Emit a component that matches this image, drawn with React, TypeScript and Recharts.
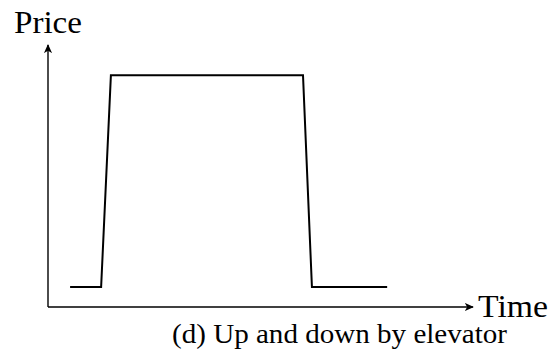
import React from "react";
import { LineChart, Line, XAxis, YAxis } from "recharts";

const times = [0.52, 1.25, 1.48, 6.0, 6.21, 7.98];
const prices = [0.76, 0.76, 8.85, 8.85, 0.76, 0.76];
const xLabel = "Time";
const yLabel = "Price";
const caption = "(d) Up and down by elevator";

const data = times.map((t, i) => ({ t, p: prices[i] }));

const W = 559;
const H = 357;
const FONT = "'Liberation Serif', 'Times New Roman', serif";

export default function App() {
  return (
    <div style={{ position: "absolute", left: 0, top: 0, width: W, height: H, background: "#fff", fontFamily: FONT }}>
      <LineChart width={W} height={H} data={data} margin={{ top: 45, right: 86, bottom: 49, left: 47 }} style={{ fontFamily: FONT }}>
        <defs>
          <marker id="arr" viewBox="0 0 10 10" refX="9" refY="5" markerWidth="9" markerHeight="9" markerUnits="userSpaceOnUse" orient="auto-start-reverse">
            <path d="M0,0.5 L10,5 L0,9.5 L2.5,5 Z" fill="#000" />
          </marker>
        </defs>
        <XAxis
          type="number"
          dataKey="t"
          domain={[0, 10]}
          height={1}
          tick={false}
          tickLine={false}
          axisLine={{ stroke: "#000", strokeWidth: 1.4, markerEnd: "url(#arr)" }}
        />
        <YAxis
          type="number"
          domain={[0, 10]}
          width={1}
          tick={false}
          tickLine={false}
          axisLine={{ stroke: "#000", strokeWidth: 1.4, markerStart: "url(#arr)" }}
        />
        <Line
          type="linear"
          dataKey="p"
          stroke="#000"
          strokeWidth={2}
          dot={false}
          isAnimationActive={false}
        />
        <text x={14} y={33} fontFamily={FONT} fontSize={31} fill="#000" textLength={68} lengthAdjust="spacingAndGlyphs">
          {yLabel}
        </text>
        <text x={478} y={317} fontFamily={FONT} fontSize={31} fill="#000" textLength={70} lengthAdjust="spacingAndGlyphs">
          {xLabel}
        </text>
        <text x={172} y={343} fontFamily={FONT} fontSize={27} fill="#000" textLength={335} lengthAdjust="spacingAndGlyphs">
          {caption}
        </text>
      </LineChart>
    </div>
  );
}
